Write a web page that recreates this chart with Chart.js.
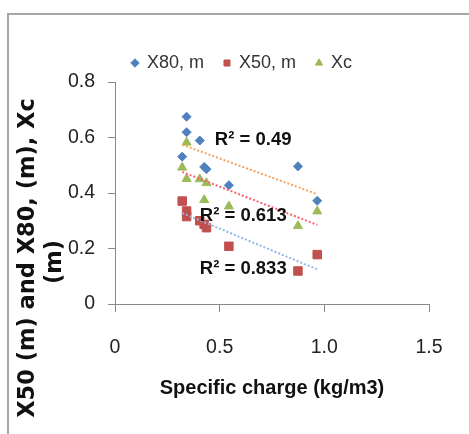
<!DOCTYPE html>
<html>
<head>
<meta charset="utf-8">
<script src="https://cdn.jsdelivr.net/npm/chart.js@4"></script>
<style>
  html, body { margin: 0; padding: 0; background: #fff; overflow: hidden; }
  canvas { display: block; }
</style>
</head>
<body>
<canvas id="chart" width="469" height="434"></canvas>
<script>
// values
const chargeX = [0.321, 0.342, 0.342, 0.405, 0.426, 0.437, 0.544, 0.874, 0.966];
const x80 = [0.531, 0.675, 0.619, 0.589, 0.494, 0.486, 0.428, 0.496, 0.372];
const x50 = [0.371, 0.335, 0.315, 0.300, 0.287, 0.275, 0.208, 0.119, 0.178];
const xc = [0.492, 0.582, 0.451, 0.450, 0.375, 0.436, 0.352, 0.281, 0.334];

// trendline ends (first and last x of the data)
const trendX = [0.321, 0.966];
const trendX80 = [0.574, 0.396];
const trendXc = [0.476, 0.285];
const trendX50 = [0.328, 0.125];

const seriesNames = ['X80, m', 'X50, m', 'Xc'];
const r2Texts = ['R\u00b2 = 0.49', 'R\u00b2 = 0.613', 'R\u00b2 = 0.833'];
const xTitle = 'Specific charge (kg/m3)';
const yTitle = ['X50 (m) and X80, (m), Xc', '(m)'];

const toPoints = (xs, ys) => xs.map((x, i) => ({x: x, y: ys[i]}));

const tickFont = {family: '"Liberation Sans", Arial, sans-serif', size: 19.5};

// frame, y title and R² labels
const decor = {
  id: 'decor',
  beforeDraw(chart) {
    const ctx = chart.ctx;
    ctx.save();
    ctx.fillStyle = '#fff';
    ctx.fillRect(0, 0, chart.width, chart.height);
    ctx.strokeStyle = '#a6a6a6';
    ctx.lineWidth = 2;
    ctx.beginPath();
    ctx.moveTo(8, chart.height);
    ctx.lineTo(8, 14);
    ctx.lineTo(chart.width, 14);
    ctx.stroke();
    ctx.restore();
  },
  afterDatasetsDraw(chart) {
    const ctx = chart.ctx;
    const xs = chart.scales.x, ys = chart.scales.y;
    const spots = [[0.477, 0.590], [0.405, 0.317], [0.405, 0.125]];
    ctx.save();
    ctx.fillStyle = '#111';
    ctx.font = 'bold 18.5px "Liberation Sans", Arial, sans-serif';
    ctx.textBaseline = 'middle';
    ctx.textAlign = 'left';
    r2Texts.forEach((t, i) => {
      ctx.fillText(t, xs.getPixelForValue(spots[i][0]), ys.getPixelForValue(spots[i][1]));
    });
    ctx.restore();
  },
  afterDraw(chart) {
    const ctx = chart.ctx;
    ctx.save();
    ctx.fillStyle = '#111';
    ctx.font = 'bold 22.5px "DejaVu Sans", sans-serif';
    ctx.textAlign = 'center';
    ctx.textBaseline = 'middle';
    const spots = [[28, 258], [55, 262]];
    yTitle.forEach((t, i) => {
      ctx.save();
      ctx.translate(spots[i][0], spots[i][1]);
      ctx.rotate(-Math.PI / 2);
      ctx.fillText(t, 0, 0);
      ctx.restore();
    });
    ctx.restore();
  }
};

const trendStyle = {
  showLine: true,
  pointRadius: 0,
  borderWidth: 2,
  borderDash: [2, 2],
  fill: false,
  order: 0
};

new Chart(document.getElementById('chart'), {
  type: 'scatter',
  data: {
    datasets: [
      {label: seriesNames[0], data: toPoints(chargeX, x80), pointStyle: 'rectRot', pointRadius: 4.5,
        backgroundColor: '#4F81BD', borderColor: '#4F81BD', borderWidth: 1, order: 3},
      {label: seriesNames[1], data: toPoints(chargeX, x50), pointStyle: 'rect', pointRadius: 6,
        backgroundColor: '#C0504D', borderColor: '#C0504D', borderWidth: 1, order: 2},
      {label: seriesNames[2], data: toPoints(chargeX, xc), pointStyle: 'triangle', pointRadius: 5.2,
        backgroundColor: '#9BBB59', borderColor: '#9BBB59', borderWidth: 1, order: 1},
      Object.assign({label: 'trend X80', data: toPoints(trendX, trendX80), borderColor: '#F7A15C'}, trendStyle),
      Object.assign({label: 'trend Xc', data: toPoints(trendX, trendXc), borderColor: '#FF5F6D'}, trendStyle),
      Object.assign({label: 'trend X50', data: toPoints(trendX, trendX50), borderColor: '#93B5E1'}, trendStyle)
    ]
  },
  options: {
    responsive: false,
    animation: false,
    devicePixelRatio: 1,
    events: [],
    layout: {padding: {left: 55, right: 40, top: 34, bottom: 0}},
    plugins: {
      legend: {
        position: 'top',
        maxHeight: 53,
        labels: {
          usePointStyle: true,
          boxWidth: 6,
          boxHeight: 6,
          padding: 20,
          color: '#333',
          font: {family: '"Liberation Sans", Arial, sans-serif', size: 18},
          filter: item => item.datasetIndex < 3,
          sort: (a, b) => a.datasetIndex - b.datasetIndex
        }
      },
      tooltip: {enabled: false}
    },
    scales: {
      x: {
        type: 'linear',
        min: 0,
        max: 1.5,
        ticks: {stepSize: 0.5, padding: 24, color: '#222', font: tickFont},
        grid: {drawOnChartArea: false, tickLength: 8, color: '#888'},
        border: {color: '#888'},
        title: {
          display: true,
          text: xTitle,
          color: '#111',
          font: {family: '"Liberation Sans", Arial, sans-serif', size: 20, weight: 'bold'},
          padding: {top: 0, bottom: 34}
        },
        afterFit: s => { s.height = 130; }
      },
      y: {
        min: 0,
        max: 0.8,
        ticks: {stepSize: 0.2, padding: 13, color: '#222', font: tickFont},
        grid: {drawOnChartArea: false, tickLength: 7, color: '#888'},
        border: {color: '#888'},
        afterFit: s => { s.width = 60; }
      }
    }
  },
  plugins: [decor]
});
</script>
</body>
</html>
